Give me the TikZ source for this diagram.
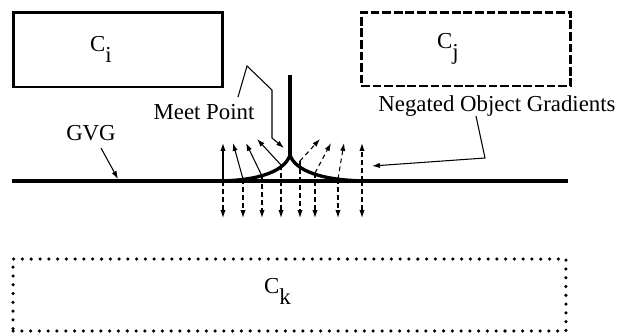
\documentclass[tikz,border=0pt]{standalone}
\usepackage{fontspec}
\setmainfont{Liberation Serif}
\usetikzlibrary{arrows.meta,positioning,calc}
\newcommand{\obj}[1]{C\raisebox{-1.05ex}{#1}}

\begin{document}
\begin{tikzpicture}[x=0.02cm,y=-0.02cm,>=Latex,font=\fontsize{13}{15}\selectfont,
 heavy/.style={line width=1.9pt},
 objbox/.style={draw,line width=1.7pt,inner sep=0pt},
 grad/.style={->,line width=0.6pt,>={Latex[length=4.5pt,width=3pt]}},
 dgrad/.style={grad,dash pattern=on 2.6pt off 2pt}]
\useasboundingbox (0,0) rectangle (637,335);
\node[objbox,minimum width=4.2cm,minimum height=1.5cm] (ci) at (118,49.5) {};
\node[objbox,dash pattern=on 5pt off 1.6pt,minimum width=4.2cm,minimum height=1.48cm] (cj) at (466,49) {};
\node[objbox,line width=2pt,line cap=round,dash pattern=on 0pt off 5pt,minimum width=11.06cm,minimum height=1.44cm] (ck) at (289.5,295) {};
\node (lci) at ($(ci.center)+(-17,0)$) {\obj{i}};
\node (lcj) at ($(cj.center)+(-18,0)$) {\obj{j}};
\node (lck) at ($(ck.center)+(-12,-4)$) {\obj{k}};

\coordinate (cusp) at (290,155);
\draw[heavy] (12,181) -- (568,181);
\draw[heavy] (290,75) -- (cusp);
\draw[heavy] (215,181) .. controls (262,181) and (285,170) .. (cusp) .. controls (295,170) and (320,181) .. (370,181);

\foreach \i/\x/\y/\ux/\uy in {1/223/181/223/143,2/243/179/233/143,3/262/176/246/143,4/281/165/257/139}{
 \coordinate (g\i) at (\x,\y);
 \draw[grad] (g\i) -- (\ux,\uy);
 \draw[dgrad] (g\i) -- (\x,218);
}
\foreach \i/\x/\y/\ux/\uy in {5/300/161/320/139,6/315/173/331/143,7/338/179/344/143,8/362/181/362/143}{
 \coordinate (g\i) at (\x,\y);
 \draw[dgrad] (g\i) -- (\ux,\uy);
 \draw[dgrad] (g\i) -- (\x,218);
}

\node (gvg) at (91,133) {GVG};
\node (meet) at (204,112) {Meet Point};
\node (neg) at (497,106) {Negated Object Gradients};
\coordinate (gvgtip) at (118,179);
\coordinate (negtip) at (372,166);
\draw[grad] (101,148) -- (gvgtip);
\draw[grad] (238,97) -- (247,66) -- (272,90) -- (272,138) -- ($(cusp)+(-6,-7)$);
\draw[grad] (476,116) -- (485,158) -- (negtip);
\end{tikzpicture}
\end{document}
